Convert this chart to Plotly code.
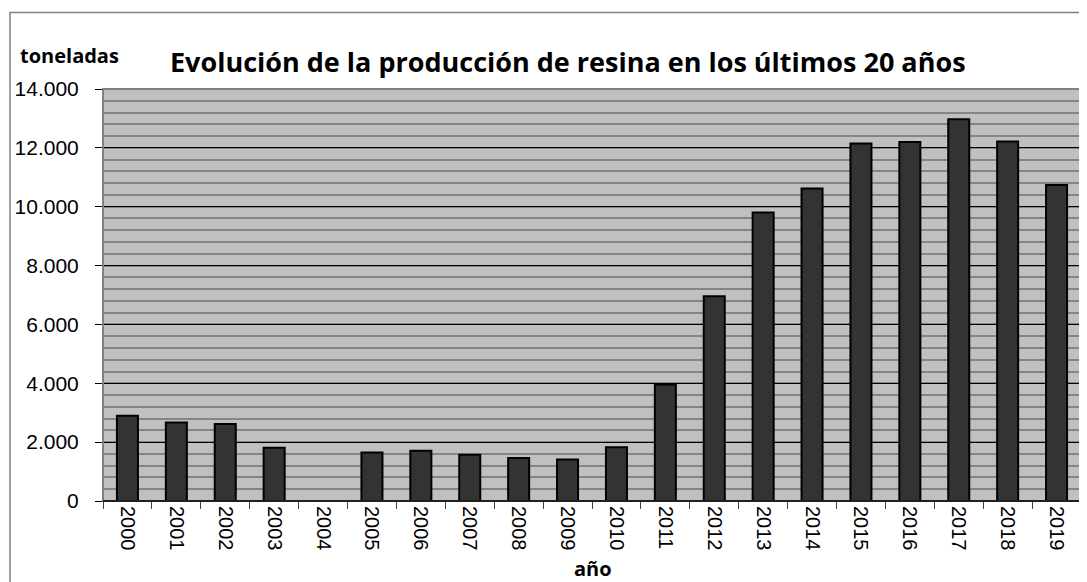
import plotly.graph_objects as go

years = [str(y) for y in range(2000, 2020)]
toneladas = [2900, 2670, 2620, 1810, 0, 1650, 1710, 1570, 1460, 1410,
             1830, 3960, 6960, 9800, 10620, 12150, 12200, 12970, 12220, 10740]
y_ticks = [0, 2000, 4000, 6000, 8000, 10000, 12000, 14000]

# page body has an 8px margin; work in reference pixel coords and shift
OFF = 8
W, H = 1087 - OFF, 582 - OFF
L, R, T, B = 103 - OFF, 6, 88.5 - OFF, 81
pw, ph = W - L - R, H - T - B

def px(x):
    return (x - OFF - L) / pw

def py(y):
    return 1 - (y - OFF - T) / ph

fig = go.Figure(go.Bar(
    x=years, y=toneladas,
    marker=dict(color="#333333", line=dict(color="#000000", width=2)),
    width=0.43,
))

fig.update_layout(
    width=W, height=H,
    margin=dict(l=L, r=R, t=T, b=B, autoexpand=False),
    paper_bgcolor="white",
    plot_bgcolor="#C0C0C0",
    separators=",.",
    showlegend=False,
    font=dict(family="Liberation Sans, Arial", color="black", size=20),
    xaxis=dict(
        type="category",
        tickangle=90,
        ticks="outside", ticklen=7, tickcolor="#404040", tickwidth=1,
        tickson="boundaries",
        showline=True, linecolor="#000000", linewidth=1,
        showgrid=False,
        tickfont=dict(size=20),
    ),
    yaxis=dict(
        range=[0, 14000],
        tickvals=y_ticks,
        tickformat=",d",
        ticks="outside", ticklen=7, tickcolor="#000000",
        ticklabelstandoff=12,
        showline=False,
        showgrid=True, gridcolor="#000000", gridwidth=1,
        zeroline=False,
        minor=dict(dtick=400, showgrid=True, gridcolor="#858585", gridwidth=1.5, ticks=""),
        tickfont=dict(size=21),
    ),
    annotations=[
        dict(text="<b>Evolución de la producción de resina en los últimos 20 años</b>",
             x=px(568), y=py(61), xref="paper", yref="paper", showarrow=False,
             xanchor="center", yanchor="middle",
             font=dict(family="Open Sans", size=27, color="black")),
        dict(text="<b>toneladas</b>",
             x=px(69), y=py(55), xref="paper", yref="paper", showarrow=False,
             xanchor="center", yanchor="middle",
             font=dict(family="Open Sans", size=20, color="black")),
        dict(text="<b>año</b>",
             x=px(593), y=py(569), xref="paper", yref="paper", showarrow=False,
             xanchor="center", yanchor="middle",
             font=dict(family="Open Sans", size=20, color="black")),
    ],
    shapes=[
        dict(type="rect", xref="paper", yref="paper", x0=0, x1=1, y0=0, y1=1,
             line=dict(color="#808080", width=2), layer="above"),
        dict(type="line", xref="paper", yref="paper", x0=0, x1=1, y0=0, y1=0,
             line=dict(color="#000000", width=1.5), layer="above"),
        dict(type="rect", xref="paper", yref="paper",
             x0=px(10), x1=px(1100), y0=py(600), y1=py(12),
             line=dict(color="#808080", width=1.5), layer="below"),
    ],
)

fig.write_html("out.html")
